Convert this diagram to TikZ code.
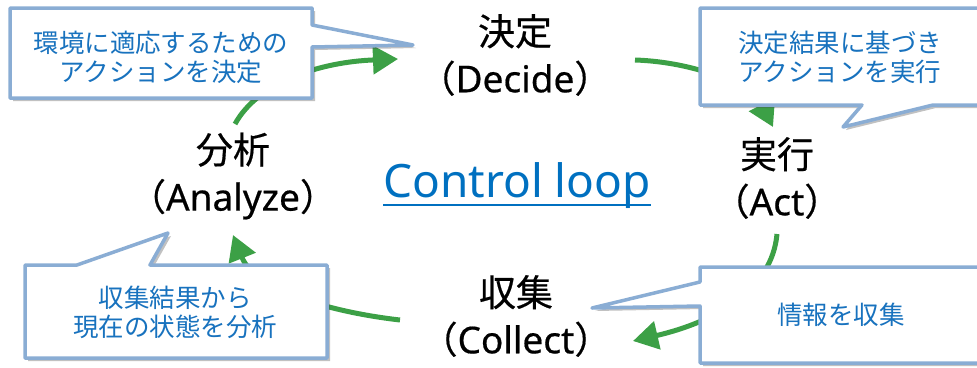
\documentclass[tikz,border=0pt]{standalone}
\usepackage{fontspec}
\setmainfont{Noto Sans CJK JP}
\newfontfamily\latinfont{Noto Sans}
\newfontfamily\phasecjk[FakeBold=0.5]{Noto Sans CJK JP}
\newfontfamily\phaselatin[FakeBold=0.5]{Noto Sans}
\usetikzlibrary{arrows.meta,shadows}

\definecolor{loopgreen}{RGB}{60,160,70}
\definecolor{calloutedge}{RGB}{138,173,212}
\definecolor{callouttext}{RGB}{24,114,190}
\definecolor{titleblue}{RGB}{0,112,192}

\tikzset{
  phase/.style={align=center, inner sep=0pt, font=\phasecjk\fontsize{37}{47}\selectfont},
  loopedge/.style={draw=loopgreen, line width=5pt,
    -{Triangle[length=25pt,width=28pt]}},
  bubble/.style={draw=calloutedge, fill=white, line width=3.5pt, line join=round,
    drop shadow={shadow xshift=3pt, shadow yshift=-3pt, opacity=0.35, fill=black!70}},
  bubbletext/.style={text=callouttext, align=center, inner sep=0pt,
    font=\fontsize{25.5}{29}\selectfont},
}

\begin{document}
\begin{tikzpicture}[x=1pt, y=-1pt]
  \useasboundingbox (0,0) rectangle (977,367);
  \clip (0,0) rectangle (977,367);

  % the four phases of the loop
  \node[phase] (decide)  at (515,55)  {決定\\（{\phaselatin Decide}）};
  \node[phase] (act)     at (777,178) {実行\\（{\phaselatin Act}）};
  \node[phase] (collect) at (516,316) {収集\\（{\phaselatin Collect}）};
  \node[phase] (analyze) at (233,176) {分析\\（{\phaselatin Analyze}）};

  % loop title
  \node[text=titleblue, inner sep=0pt, anchor=base,
        font=\latinfont\fontsize{46}{50}\selectfont] (title) at (517,197) {Control loop};
  \draw[titleblue, line width=2.5pt]
    ([yshift=-8pt]title.base west) -- ([yshift=-8pt]title.base east);

  % arc end points
  \coordinate (a1s) at (235,124); \coordinate (a1e) at (398,59);
  \coordinate (a2s) at (635,60);  \coordinate (a2e) at (773,127);
  \coordinate (a3s) at (777,234); \coordinate (a3e) at (633,341);
  \coordinate (a4s) at (400,320); \coordinate (a4e) at (233,235);

  % green loop arcs
  \draw[loopedge] (a1s) .. controls (258,82) and (320,62) .. (a1e);
  \draw[loopedge] (a2s) .. controls (695,62) and (752,85) .. (a2e);
  \draw[loopedge] (a3s) .. controls (772,290) and (715,322) .. (a3e);
  \draw[loopedge] (a4s) .. controls (330,312) and (255,290) .. (a4e);

  % callout bubbles
  \path[bubble] (10,8) -- (312,8) -- (312,25) -- (413,45) -- (312,47)
    -- (312,98) -- (10,98) -- cycle;
  \path[bubble] (700,8) -- (990,8) -- (990,105) -- (933,105) -- (843,127)
    -- (862,105) -- (700,105) -- cycle;
  \path[bubble] (25,265) -- (77,265) -- (168,233) -- (150,265) -- (327,265)
    -- (327,358) -- (25,358) -- cycle;
  \path[bubble] (700,267) -- (990,267) -- (990,363) -- (700,363) -- (700,306)
    -- (592,308) -- (700,282) -- cycle;

  % callout texts
  \node[bubbletext] (note1) at (161,57)  {環境に適応するための\\アクションを決定};
  \node[bubbletext] (note2) at (840,57)  {決定結果に基づき\\アクションを実行};
  \node[bubbletext] (note3) at (175,312) {収集結果から\\現在の状態を分析};
  \node[bubbletext] (note4) at (841,315) {情報を収集};
\end{tikzpicture}
\end{document}
